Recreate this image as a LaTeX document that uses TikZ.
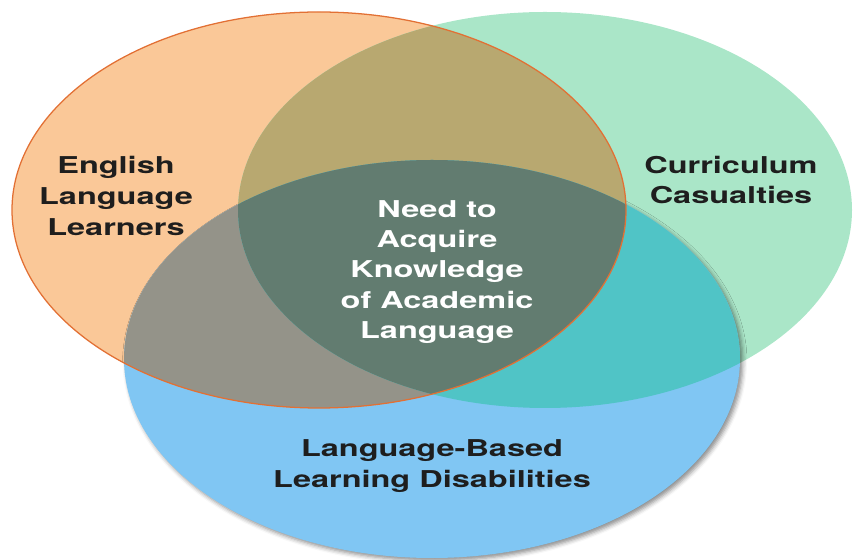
\documentclass[tikz,border=0pt]{standalone}
\usepackage{fontspec}
\setmainfont{TeX Gyre Heros}[FakeStretch=1.4]
\usetikzlibrary{shadows.blur}

\definecolor{ellfill}{RGB}{250,200,152}
\definecolor{curfill}{RGB}{170,230,200}
\definecolor{lbdfill}{RGB}{128,198,243}
\definecolor{ellcurfill}{RGB}{184,168,112}
\definecolor{elllbdfill}{RGB}{148,147,137}
\definecolor{curlbdfill}{RGB}{80,196,198}
\definecolor{allfill}{RGB}{98,124,112}
\definecolor{ellline}{RGB}{226,112,52}
\definecolor{labeltext}{RGB}{30,30,30}

\tikzset{
  label/.style={font=\fontsize{16.5}{22}\selectfont\bfseries, align=center, text=labeltext},
  centerlabel/.style={label, text=white, font=\fontsize{16.5}{21.5}\selectfont\bfseries}
}

\begin{document}
\begin{tikzpicture}%
\useasboundingbox (0, 0) rectangle (21.475, 14.000);%
% centres of the three sets
\coordinate (ell) at (7.975, 8.750);%
\coordinate (cur) at (13.625, 8.750);%
\coordinate (lbd) at (10.800, 5.025);%
% plain fills
\fill[ellfill] (ell) ellipse (7.675 and 4.950);%
\fill[curfill] (cur) ellipse (7.675 and 4.950);%
\fill[lbdfill, blur shadow={shadow xshift=2pt, shadow yshift=-2pt, shadow blur radius=3pt, shadow opacity=45}] (lbd) ellipse (7.700 and 4.975);%
% overlaps
\begin{scope}%
\clip (ell) ellipse (7.675 and 4.950);%
\fill[ellcurfill] (cur) ellipse (7.675 and 4.950);%
\fill[elllbdfill] (lbd) ellipse (7.700 and 4.975);%
\end{scope}%
\begin{scope}%
\clip (cur) ellipse (7.675 and 4.950);%
\fill[curlbdfill] (lbd) ellipse (7.700 and 4.975);%
\end{scope}%
\begin{scope}%
\clip (ell) ellipse (7.675 and 4.950);%
\clip (cur) ellipse (7.675 and 4.950);%
\fill[allfill] (lbd) ellipse (7.700 and 4.975);%
\end{scope}%
\draw[ellline, line width=0.9pt] (ell) ellipse (7.675 and 4.950);%
% texts
\node[label] (ellname) at (2.900, 9.100) {English\\Language\\Learners};%
\node[label] (curname) at (18.275, 9.500) {Curriculum\\Casualties};%
\node[label] (lbdname) at (10.800, 2.350) {Language-Based\\Learning Disabilities};%
\node[centerlabel] (allname) at (10.925, 7.200) {Need to\\Acquire\\Knowledge\\of Academic\\Language};%
\end{tikzpicture}
\end{document}
